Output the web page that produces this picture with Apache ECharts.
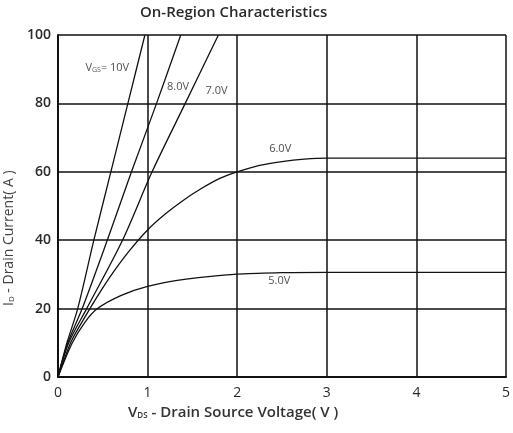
<!DOCTYPE html>
<html>
<head>
<meta charset="utf-8">
<script src="https://cdn.jsdelivr.net/npm/echarts@6/dist/echarts.min.js"></script>
<style>html,body{margin:0;padding:0;background:#fff}#c{width:513px;height:433px}</style>
</head>
<body>
<div id="c"></div>
<script>
// Drain-source voltage (V) / drain current (A)
const xTicks = [0, 1, 2, 3, 4, 5];
const yTicks = [0, 20, 40, 60, 80, 100];

const vgs10 = [[0,0],[0.1,10],[0.22,20],[0.40,40],[0.59,60],[0.78,80],[0.97,100]];
const vgs8  = [[0,0],[0.11,10],[0.27,20],[0.55,40],[0.82,60],[1.1,80],[1.37,100]];
const vgs7  = [[0,0],[0.12,10],[0.32,20],[0.72,40],[1.05,60],[1.42,80],[1.79,100]];
const vgs6  = [[0,0],[0.15,10.5],[0.3,17.5],[0.45,24],[0.6,30],[0.8,37],[1.0,43],[1.2,47.7],[1.4,51.7],[1.6,55.1],[1.8,58],[2.0,60],[2.25,61.9],[2.5,63],[2.75,63.7],[3.0,64],[4.0,64],[5.0,64]];
const vgs5  = [[0,0],[0.16,10],[0.3,16],[0.44,20],[0.7,23.8],[1.0,26.5],[1.43,28.6],[2.0,30.1],[2.5,30.5],[3.0,30.6],[4.0,30.6],[5.0,30.6]];

const curveLabels = [
  {value: [0.55, 90.4], text: '{v|V}{s|GS}{v|= 10V}'},
  {value: [1.34, 84.8], text: '8.0V'},
  {value: [1.77, 83.6], text: '7.0V'},
  {value: [2.48, 66.8], text: '6.0V'},
  {value: [2.47, 28.2], text: '5.0V'}
];

const chart = echarts.init(document.getElementById('c'), null, {renderer: 'canvas'});
const lineStyle = {color: '#111', width: 1.3};
function curve(name, data) {
  return {name, type: 'line', data, smooth: 0.3, symbol: 'none', lineStyle, z: 3, clip: true};
}
const txt = '#2a2a2a';
chart.setOption({
  animation: false,
  backgroundColor: '#fff',
  grid: {left: 58, right: 1, top: 35, bottom: 56, containLabel: false},
  xAxis: {
    type: 'value', min: 0, max: 5, interval: 1,
    axisLine: {show: true, lineStyle: {color: '#111', width: 2}},
    axisTick: {show: false},
    splitLine: {show: true, lineStyle: {color: '#111', width: 1.5}},
    axisLabel: {color: txt, fontFamily: 'Open Sans', fontSize: 14, margin: 9,
      formatter: v => xTicks.includes(v) ? String(v) : ''}
  },
  yAxis: {
    type: 'value', min: 0, max: 100, interval: 20,
    axisLine: {show: true, lineStyle: {color: '#111', width: 2}},
    axisTick: {show: false},
    splitLine: {show: true, lineStyle: {color: '#111', width: 1.5}},
    axisLabel: {color: txt, fontFamily: 'Open Sans', fontSize: 14, fontWeight: 600, margin: 7,
      formatter: v => yTicks.includes(v) ? String(v) : ''}
  },
  graphic: [
    {type: 'text', left: 140, top: 5, style: {text: 'On-Region Characteristics', fill: txt, font: '600 15px "Open Sans"'}},
    {type: 'text', left: 128, top: 405, style: {
      text: '{v|V}{s|DS}{v| - Drain Source Voltage( V )}',
      rich: {v: {fill: '#333', font: '600 15px "Open Sans"'}, s: {fill: '#333', font: '600 8px "Open Sans"', padding: [6,0,0,0]}}}},
    {type: 'text', x: 2, y: 306, rotation: Math.PI / 2, style: {
      text: '{v|I}{s|D}{v| - Drain Current( A )}',
      rich: {v: {fill: '#444', font: '14px "Open Sans"'}, s: {fill: '#444', font: '8px "Open Sans"', padding: [6,0,0,0]}}}}
  ],
  series: [
    curve('10V', vgs10), curve('8V', vgs8), curve('7V', vgs7), curve('6V', vgs6), curve('5V', vgs5),
    {
      type: 'scatter', symbolSize: 0, z: 5,
      data: curveLabels.map(d => ({value: d.value, label: {formatter: d.text}})),
      label: {show: true, position: 'inside', color: '#222', fontFamily: 'Open Sans', fontSize: 11,
        rich: {v: {fontSize: 11, color: '#222', fontFamily: 'Open Sans'}, s: {fontSize: 7, color: '#222', padding: [4,0,0,0], fontFamily: 'Open Sans'}}}
    }
  ]
});
</script>
</body>
</html>
